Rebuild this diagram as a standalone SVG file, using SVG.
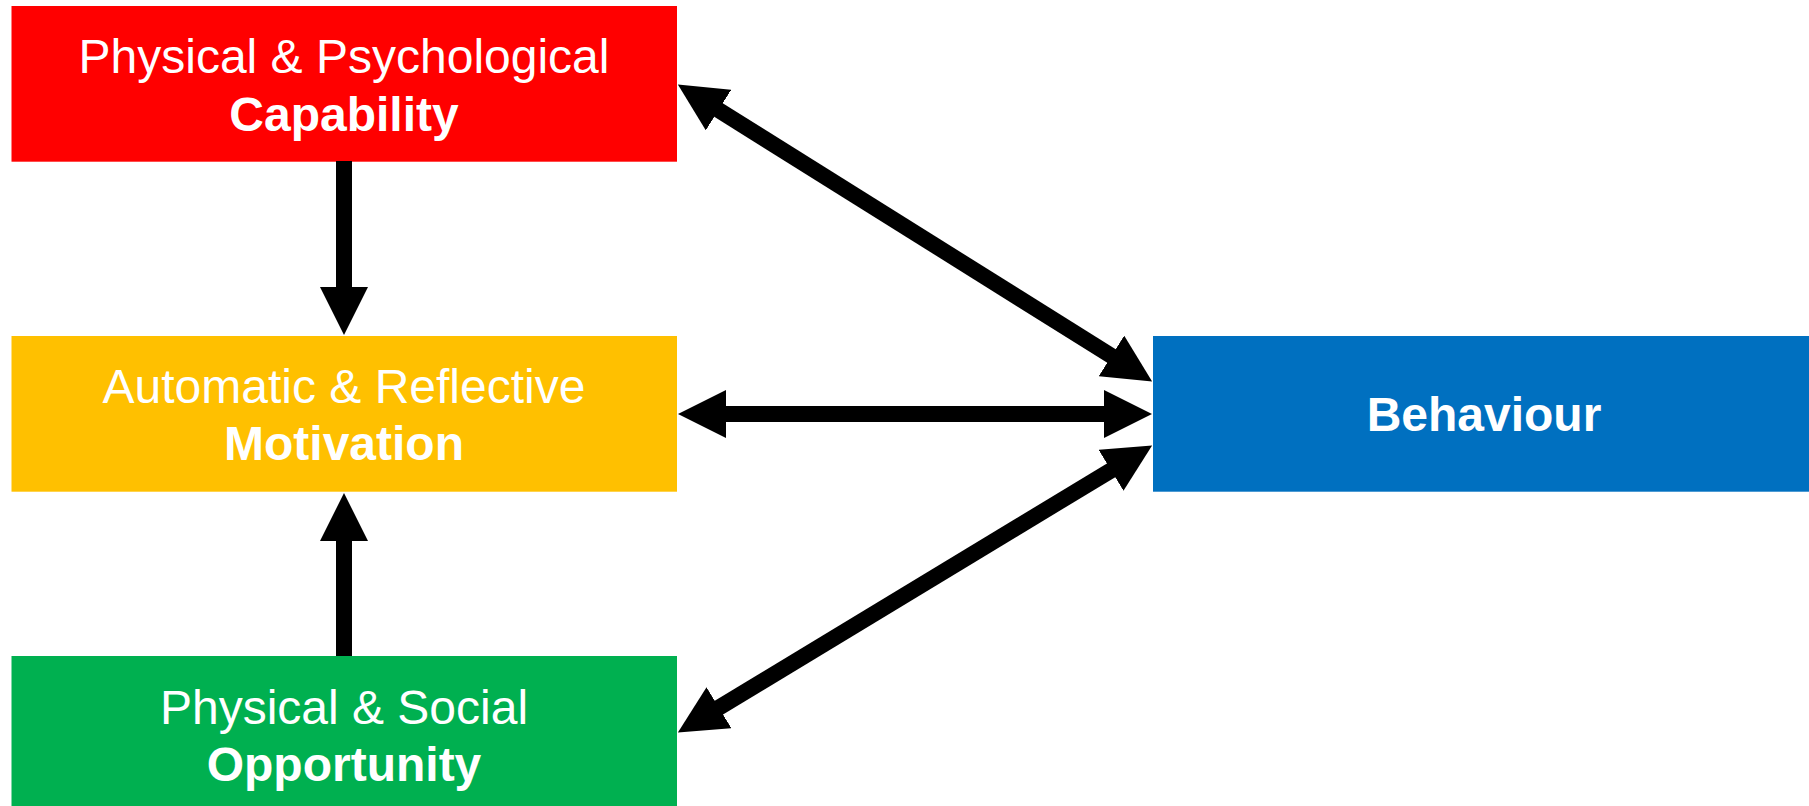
<svg xmlns="http://www.w3.org/2000/svg" width="1809" height="806" viewBox="0 0 1809 806">
<style>
  .lbl { font-family: "Liberation Sans", Arial, sans-serif; font-size: 48px; fill: #FFFFFF; text-anchor: middle; }
  .b { font-weight: bold; }
  .conn { stroke: #000000; stroke-width: 16; fill: none; }
</style>
<defs>
  <marker id="head" viewBox="0 0 48 48" markerWidth="48" markerHeight="48" markerUnits="userSpaceOnUse" refX="1" refY="24" orient="auto-start-reverse">
    <path d="M0,0 L48,24 L0,48 Z" fill="#000000"/>
  </marker>
</defs>
<rect x="0" y="0" width="1809" height="806" fill="#FFFFFF"/>
<g id="capability">
  <rect x="11.5" y="6" width="665.5" height="155.7" fill="#FF0000"/>
  <text class="lbl" x="344" y="73">Physical &amp; Psychological</text>
  <text class="lbl b" x="344" y="131">Capability</text>
</g>
<g id="motivation">
  <rect x="11.5" y="336" width="665.5" height="155.7" fill="#FFC000"/>
  <text class="lbl" x="344" y="403">Automatic &amp; Reflective</text>
  <text class="lbl b" x="344" y="460">Motivation</text>
</g>
<g id="opportunity">
  <rect x="11.5" y="656" width="665.5" height="150" fill="#00B050"/>
  <text class="lbl" x="344" y="724">Physical &amp; Social</text>
  <text class="lbl b" x="344" y="781">Opportunity</text>
</g>
<g id="behaviour">
  <rect x="1153" y="336" width="656" height="155.7" fill="#0070C0"/>
  <text class="lbl b" x="1484" y="431">Behaviour</text>
</g>
<g id="connectors">
  <line class="conn" x1="344" y1="161" x2="344" y2="288" marker-end="url(#head)"/>
  <line class="conn" x1="344" y1="656" x2="344" y2="540" marker-end="url(#head)"/>
  <line class="conn" x1="717.7" y1="109.5" x2="1112.3" y2="356.5" marker-start="url(#head)" marker-end="url(#head)"/>
  <line class="conn" x1="725" y1="414" x2="1105" y2="414" marker-start="url(#head)" marker-end="url(#head)"/>
  <line class="conn" x1="718.1" y1="708.2" x2="1111.9" y2="469.8" marker-start="url(#head)" marker-end="url(#head)"/>
</g>
</svg>
